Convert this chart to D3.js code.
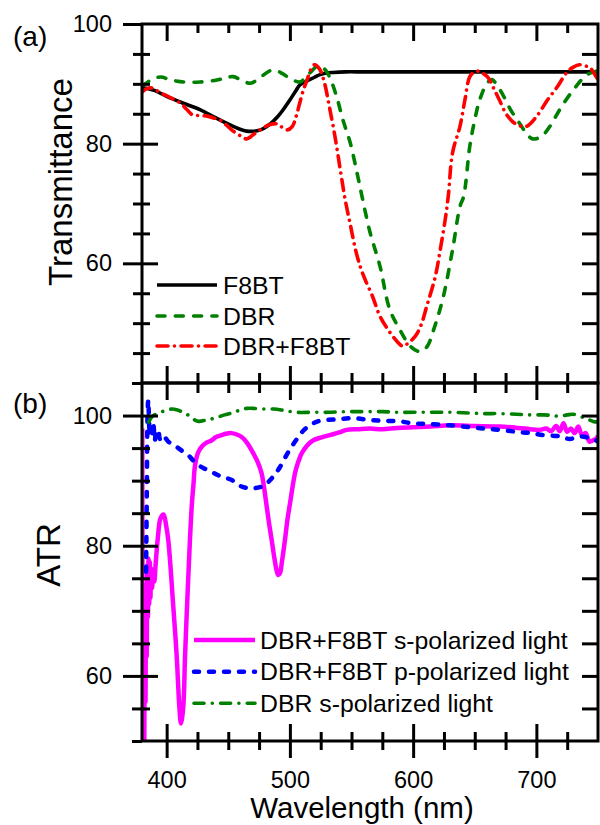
<!DOCTYPE html>
<html>
<head>
<meta charset="utf-8">
<script src="https://cdn.jsdelivr.net/npm/d3@7"></script>
<style>
  body { margin: 0; background: #fff; }
  svg text { font-family: "Liberation Sans", Arial, sans-serif; fill: #000; }
</style>
</head>
<body>
<svg id="chart" width="600" height="825"></svg>
<script>
// ---------- data ----------
// (a) transmittance spectra
const f8btWl = [380,390,400,413,427,440,454,465,476,484,490,495,500,505,508,512,516,520,524,530,535,545,560,600,650,700,750];
const f8btT  = [89.4,88.9,87.9,86.8,85.7,84.3,82.9,82.1,82.3,83.3,84.5,85.8,87.3,88.9,89.8,90.3,90.7,91.1,91.5,91.8,91.9,92,92,92,92,92,92];

const dbrWl = [380,384,388,393,397,402,407,415,427,440,448,454,461,468,476,484,489,494,501,508,512,517,523,528,532.5,538,543,549,554.5,558.5,565,573,581,589,597.5,604,608,612,616,624,632,638,641,646,650,654,659.7,663.8,670.5,679,687,692,697,704,711,719,730,741,750];
const dbrT  = [89.7,90.2,90.8,91.1,91.1,90.7,90.5,90.3,90.3,90.6,91,91.2,90.6,90.1,91.1,92.2,92.2,91.7,90.8,90.3,90.9,92.0,93.0,92.5,91,87.8,84,80.1,75.1,71.2,65.2,59.6,52.3,49,46.2,45.3,45.4,46.3,48.5,54,62.3,69.5,71.2,79.6,84,87.3,90,90.7,89,85.7,83.2,81.7,80.8,81.2,82.9,85.7,89,91.5,92.2];

const dbrF8btWl = [380,384,388,395,403,411,416,421,427,433,438,443,449,454,460,465,471,478,484,490,494,498,502,505,508,511,514,517,520,524,528,532,537,541,545,549,553,557,561,567,573,581,589,592,595,599,603,607,611,618,622,626,628.5,632,638,642,646,650,654,657,661,665,670,676,684,692,700,709,717,725,730,735,739,743,747,750];
const dbrF8btT  = [88.6,89.2,89.3,88.5,87.7,86.8,85.8,84.8,84.7,84.6,84.3,84,83,82.1,81.3,80.8,81.6,82.6,83.2,83.3,82.7,82.3,82.9,84.5,86.8,89,90.7,92.4,93.2,92.5,90.2,86.2,80.7,75.5,70.5,66.5,62.5,59.5,57.3,54.5,51.2,48.5,46.5,46.1,46.5,47.2,48.2,50,52.8,57.8,62.3,67.3,71.2,78.5,82.9,87.3,91.2,92,92.1,91.7,91,89.4,87.3,84.8,83.2,82.9,84.5,87.3,89.5,92,92.8,93.2,93,92.8,91.7,90.7];

// (b) ATR spectra
const sPolWl = [380.2,380.7,381.3,381.8,382.3,382.8,383.3,383.8,384.3,384.8,385.3,385.8,386.3,386.8,387.5,388.2,389,390,391,393,395,397.5,399.5,401.3,405.4,408.2,410.3,411.6,413.5,414.9,417.1,418.9,420.5,421.8,423,425.5,428.4,432,436.6,440,444.7,448,452.8,458,462.2,466,470.3,474,477.1,479,481.2,483.2,485.2,487.5,489.5,490.6,492,493.5,496,498,500.1,504.1,507,509.6,514,519,525,532.5,540,546,555,565,575,587,600,614,630,650,670,685,695,703,708,712,716,719,722,725,728,731,734,737,740,743,746,749,750];
const sPolR  = [98,48,66,49,72,56,74,63,77,69,78,71,77.5,72,76.5,73.5,76,74.5,77,81.5,84.2,84.8,83.2,80.9,70.6,62.9,55.3,52.7,55.3,62.9,73.2,80.9,86.5,89.5,92.3,94.3,95.2,95.8,96.2,96.7,97,97.2,97.3,97,96.5,95.6,94.2,92.8,91.1,89,86,83.3,80.9,78,76,75.5,75.8,77.5,80.9,84,86.5,91.1,93,94.2,95.4,96.2,96.6,97,97.4,97.8,97.9,98,97.9,98.1,98.2,98.3,98.5,98.4,98.3,98.1,97.9,97.8,98.0,97.6,98.4,97.6,98.8,97.5,98.0,97.3,98.3,97.0,97.3,96.0,96.2,96.5,97.0];

const pPolWl = [383.3,383.9,384.5,385.1,385.7,386.3,387,387.9,388.6,389.3,390.5,391.5,393,394.5,396,398,401.3,405,409.5,413,417.6,421,425.7,430,433.8,440,444.7,452.8,459.5,467.6,475.7,480,484,488,492,498.7,506.8,511,516.3,521,527,538,551.5,565,576,589,600,611,630,657,670.5,684,695,706,719,727,735,742,747,750];
const pPolR  = [76,88,100,102.4,99,97,98.8,98.8,97.2,98.5,96.2,97.6,97.8,96.4,97,96.8,96,95.6,95,94.5,93.9,93.2,92.4,91.9,91.6,91,90.6,90.1,89.2,88.8,89,89.3,90.1,91,92.1,94.4,96.7,97.7,98.5,99,99.3,99.4,99.6,99.3,99.2,99.1,98.8,98.7,98.5,98,97.8,97.5,97.3,97,96.8,96.4,96.8,96.6,96.3,96];

const dbrSWl = [385.5,388,392,398,404,408,412,416,420,423,426,432,439,447,453,459,465,470,478,487,495,505,518,532,545,560,575,587,608,630,645,657,670,684,695,706,713,719,725,730,735,738,742,746,750];
const dbrSR  = [99,99.8,100.3,100.7,101,100.9,100.6,100.2,99.8,99.3,99.1,99.3,99.6,100.1,100.4,100.8,101.1,101.1,101,101,100.8,100.5,100.5,100.5,100.6,100.6,100.6,100.5,100.5,100.5,100.4,100.3,100.3,100.2,100.1,100.1,100,99.9,100.1,100.2,99.9,99.7,99.4,99.1,99.0];

// axis ticks
const wlMajor = [400, 500, 600, 700];
const wlMinor = [425, 450, 475, 525, 550, 575, 625, 650, 675, 725];
const transMajor = [60, 80, 100];
const transMinor = [45, 50, 55, 65, 70, 75, 85, 90, 95];
const atrMajor = [60, 80, 100];
const atrMinor = [50, 55, 65, 70, 75, 85, 90, 95, 105];

// ---------- layout ----------
const svg = d3.select("#chart");
const L = 142, R = 598, TOP = 24, MID = 383, BOT = 741;

const x  = d3.scaleLinear().domain([380, 750]).range([L, R]);
const yA = d3.scaleLinear().domain([40, 100]).range([MID, TOP]);
const yB = d3.scaleLinear().domain([50, 105]).range([BOT, MID]);

const defs = svg.append("defs");
defs.append("clipPath").attr("id", "clipA").append("rect")
  .attr("x", L).attr("y", TOP).attr("width", R - L).attr("height", MID - TOP);
defs.append("clipPath").attr("id", "clipB").append("rect")
  .attr("x", L).attr("y", MID).attr("width", R - L).attr("height", BOT - MID);

function zip(wl, v) { return wl.map((w, i) => [w, v[i]]); }

function axisGroup(axis, tx, ty, fontSize) {
  const g = svg.append("g").attr("transform", `translate(${tx},${ty})`).call(axis);
  g.attr("font-family", null).attr("font-size", null);
  g.select(".domain").remove();
  g.selectAll(".tick line").attr("stroke", "#000").attr("stroke-width", 3);
  g.selectAll(".tick text").attr("fill", "#000").style("font-size", (fontSize || 23.5) + "px");
  return g;
}
const none = () => "";

// ---------- curves ----------
function drawSeries(clip, yScale, data, style) {
  const line = d3.line().x(d => x(d[0])).y(d => yScale(d[1])).curve(d3.curveCatmullRom.alpha(0.5));
  svg.append("path")
    .attr("clip-path", `url(#${clip})`)
    .attr("d", line(data))
    .attr("fill", "none")
    .attr("stroke", style.color)
    .attr("stroke-width", style.width)
    .attr("stroke-linecap", style.dash ? "round" : "butt")
    .attr("stroke-linejoin", "round")
    .attr("stroke-dasharray", style.dash || null);
}

const styles = {
  f8bt:    { color: "#000000", width: 3.6 },
  dbr:     { color: "#008000", width: 3.6, dash: "8,10.3" },
  dbrF8bt: { color: "#ff0000", width: 3.6, dash: "11,6.5,0.01,6.5" },
  sPol:    { color: "#ff00ff", width: 4.5 },
  pPol:    { color: "#0000ff", width: 4.5, dash: "5,10" },
  dbrS:    { color: "#008000", width: 3.6, dash: "10,8.3,0.01,8.3" }
};

drawSeries("clipA", yA, zip(f8btWl, f8btT), styles.f8bt);
drawSeries("clipA", yA, zip(dbrWl, dbrT), styles.dbr);
drawSeries("clipA", yA, zip(dbrF8btWl, dbrF8btT), styles.dbrF8bt);

drawSeries("clipB", yB, zip(sPolWl, sPolR), styles.sPol);
drawSeries("clipB", yB, zip(pPolWl, pPolR), styles.pPol);
drawSeries("clipB", yB, zip(dbrSWl, dbrSR), styles.dbrS);

// ---------- frames ----------
[[TOP, MID], [MID, BOT]].forEach(([t, b]) => {
  svg.append("rect").attr("x", L).attr("y", t).attr("width", R - L).attr("height", b - t)
    .attr("fill", "none").attr("stroke", "#000").attr("stroke-width", 3);
});

// ---------- axes: panel (a) ----------
axisGroup(d3.axisLeft(yA).tickValues(transMajor).tickSize(19).tickSizeOuter(0).tickPadding(11), L, 0);
axisGroup(d3.axisLeft(yA).tickValues(transMinor).tickSize(9).tickSizeOuter(0).tickFormat(none), L, 0);
axisGroup(d3.axisRight(yA).tickValues([60, 80]).tickSize(16).tickSizeOuter(0).tickFormat(none), L, 0);
axisGroup(d3.axisRight(yA).tickValues(transMinor).tickSize(8).tickSizeOuter(0).tickFormat(none), L, 0);
axisGroup(d3.axisLeft(yA).tickValues(transMinor.concat([60, 80])).tickSize(16).tickSizeOuter(0).tickFormat(none), R, 0);
axisGroup(d3.axisBottom(x).tickValues(wlMajor).tickSize(17).tickSizeOuter(0).tickFormat(none), 0, TOP);
axisGroup(d3.axisBottom(x).tickValues(wlMinor).tickSize(9).tickSizeOuter(0).tickFormat(none), 0, TOP);
axisGroup(d3.axisTop(x).tickValues(wlMajor).tickSize(17).tickSizeOuter(0).tickFormat(none), 0, MID);
axisGroup(d3.axisTop(x).tickValues(wlMinor).tickSize(10).tickSizeOuter(0).tickFormat(none), 0, MID);

// ---------- axes: panel (b) ----------
axisGroup(d3.axisLeft(yB).tickValues(atrMajor).tickSize(19).tickSizeOuter(0).tickPadding(11), L, 0);
axisGroup(d3.axisLeft(yB).tickValues(atrMinor).tickSize(10).tickSizeOuter(0).tickFormat(none), L, 0);
axisGroup(d3.axisRight(yB).tickValues(atrMajor).tickSize(16).tickSizeOuter(0).tickFormat(none), L, 0);
axisGroup(d3.axisRight(yB).tickValues(atrMinor.filter(v => v > 50 && v < 105)).tickSize(8).tickSizeOuter(0).tickFormat(none), L, 0);
axisGroup(d3.axisLeft(yB).tickValues([55, 60, 65, 70, 75, 80, 85, 90, 95, 100]).tickSize(16).tickSizeOuter(0).tickFormat(none), R, 0);
axisGroup(d3.axisBottom(x).tickValues(wlMajor).tickSize(17).tickSizeOuter(0).tickFormat(none), 0, MID);
axisGroup(d3.axisBottom(x).tickValues(wlMinor).tickSize(10).tickSizeOuter(0).tickFormat(none), 0, MID);
axisGroup(d3.axisTop(x).tickValues(wlMajor).tickSize(17).tickSizeOuter(0).tickFormat(none), 0, BOT);
axisGroup(d3.axisTop(x).tickValues(wlMinor).tickSize(9).tickSizeOuter(0).tickFormat(none), 0, BOT);
axisGroup(d3.axisBottom(x).tickValues(wlMajor).tickSize(17).tickSizeOuter(0).tickPadding(13.5), 0, BOT);
axisGroup(d3.axisBottom(x).tickValues(wlMinor).tickSize(9).tickSizeOuter(0).tickFormat(none), 0, BOT);

// ---------- titles ----------
svg.append("text").attr("transform", "translate(72,182) rotate(-90)")
  .attr("text-anchor", "middle").style("font-size", "33px").text("Transmittance");
svg.append("text").attr("transform", "translate(60,555) rotate(-90)")
  .attr("text-anchor", "middle").style("font-size", "33px").text("ATR");
svg.append("text").attr("x", 362).attr("y", 818)
  .attr("text-anchor", "middle").style("font-size", "29.5px").text("Wavelength (nm)");
svg.append("text").attr("x", 13).attr("y", 46).style("font-size", "28px").text("(a)");
svg.append("text").attr("x", 13).attr("y", 412.5).style("font-size", "28px").text("(b)");

// ---------- legends ----------
function legend(items, x0, x1, tx, rows) {
  items.forEach((it, i) => {
    const st = styles[it.key];
    svg.append("line").attr("x1", x0).attr("x2", x1).attr("y1", rows[i]).attr("y2", rows[i])
      .attr("stroke", st.color).attr("stroke-width", st.width)
      .attr("stroke-linecap", st.dash ? "round" : "butt")
      .attr("stroke-dasharray", st.dash || null);
    svg.append("text").attr("x", tx).attr("y", rows[i]).attr("dy", "0.35em")
      .style("font-size", "24.8px").text(it.label);
  });
}
legend([{ key: "f8bt", label: "F8BT" }, { key: "dbr", label: "DBR" }, { key: "dbrF8bt", label: "DBR+F8BT" }],
  157, 217, 223, [285, 316, 346]);
legend([{ key: "sPol", label: "DBR+F8BT s-polarized light" },
        { key: "pPol", label: "DBR+F8BT p-polarized light" },
        { key: "dbrS", label: "DBR s-polarized light" }],
  194, 255, 260, [640, 671.7, 703.3]);
</script>
</body>
</html>
